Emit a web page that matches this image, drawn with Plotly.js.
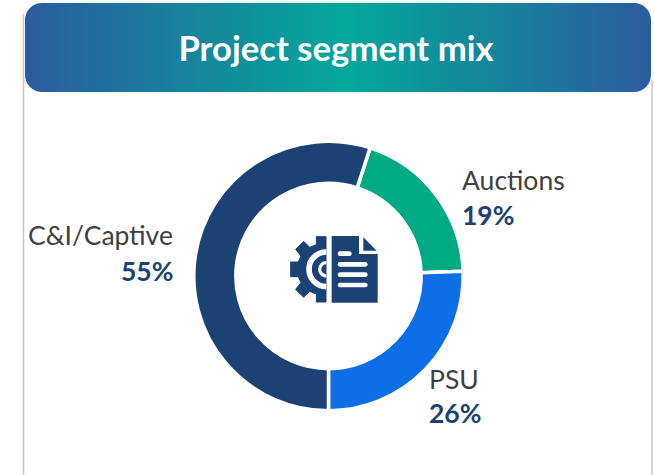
<!DOCTYPE html>
<html>
<head>
<meta charset="utf-8">
<script src="https://cdn.plot.ly/plotly-3.0.1.min.js"></script>
<style>
html,body{margin:0;padding:0;background:#fff;width:654px;height:475px;overflow:hidden}
#head{position:absolute;left:25px;top:3px;width:626px;height:89px;border-radius:17px;
background:linear-gradient(90deg,#2b5c9f 0%,#04a89b 51%,#2b5c9f 100%)}
#chart{position:absolute;left:0;top:0;width:654px;height:475px}
</style>
</head>
<body>
<div id="head"></div>
<div id="chart"></div>
<script>
const categories = ["Auctions", "PSU", "C&I/Captive"];
const shares = [19.45, 25.55, 55];
const sliceColors = ["#00ab84", "#0d6ee8", "#1c4174"];
const titleText = "Project segment mix";

const W = 654, H = 475;
const FONT = "Lato, 'Open Sans', sans-serif";
const cx = 328.5, cy = 276, R = 134.7;
const px = x => x / W, py = y => 1 - y / H;

// Label placement per category: anchor, x, name centre y, percent centre y
const placement = [
  {anchor: "left",  x: 460, yName: 180, yPct: 215},
  {anchor: "left",  x: 427, yName: 379, yPct: 413},
  {anchor: "right", x: 175, yName: 235, yPct: 271}
];

const annotations = [];
categories.forEach((c, i) => {
  const p = placement[i];
  annotations.push({xref:"paper", yref:"paper", x:px(p.x), y:py(p.yName), xanchor:p.anchor, yanchor:"middle",
    text:c, showarrow:false, font:{family:FONT, size:26.5, color:"#404040"}});
  annotations.push({xref:"paper", yref:"paper", x:px(p.x), y:py(p.yPct), xanchor:p.anchor, yanchor:"middle",
    text:"<b>"+Math.round(shares[i])+"%</b>", showarrow:false, font:{family:FONT, size:26.5, color:"#1c4174"}});
});

const iconSvg = `<svg xmlns="http://www.w3.org/2000/svg" viewBox="0 0 300 240" width="300" height="240">
<path fill="#1c4174" stroke="#1c4174" stroke-width="3" stroke-linejoin="round" d="M123 20H94V44L74 52L56 34L32 58L48 78L40 96H17V140H40L48 158L32 178L56 202L74 184L94 192V216H123Z"/>
<path fill="none" stroke="#fff" stroke-width="17" d="M124 66A52 52 0 0 0 124 170"/>
<path fill="none" stroke="#fff" stroke-width="10" d="M124 98A20 20 0 0 0 124 138"/>
<path fill="#1c4174" d="M140 18H222V72H278V218H140Z"/>
<path fill="#1c4174" d="M235 22L275 62H235Z"/>
<g fill="none" stroke="#fff" stroke-width="14" stroke-linecap="round">
<path d="M165 71H193"/><path d="M165 103H241"/><path d="M165 134H241"/><path d="M165 165H241"/>
</g></svg>`;

const data = [{
  type: "pie",
  labels: categories,
  values: shares,
  sort: false,
  direction: "clockwise",
  rotation: 18,
  hole: 0.688,
  textinfo: "none",
  hoverinfo: "label+percent",
  showlegend: false,
  marker: {colors: sliceColors, line: {color: "#ffffff", width: 3.5}},
  domain: {x: [px(cx - R), px(cx + R)], y: [py(cy + R), py(cy - R)]}
}];

const layout = {
  width: W, height: H,
  margin: {l:0, r:0, t:0, b:0, pad:0},
  paper_bgcolor: "rgba(0,0,0,0)",
  plot_bgcolor: "rgba(0,0,0,0)",
  showlegend: false,
  title: {text:"<b>"+titleText+"</b>", x:px(336), xanchor:"center", y:py(49), yanchor:"middle",
          font:{family:FONT, size:34.7, color:"#ffffff"}},
  annotations: annotations,
  shapes: [
    {type:"line", xref:"paper", yref:"paper", x0:px(23.5), x1:px(23.5), y0:0, y1:py(14), line:{color:"#c6c6c6", width:1.5}},
    {type:"line", xref:"paper", yref:"paper", x0:px(652), x1:px(652), y0:0, y1:py(80), line:{color:"#c6c6c6", width:1.5}}
  ],
  images: [{
    source: "data:image/svg+xml;base64," + btoa(iconSvg),
    xref:"paper", yref:"paper", x:px(285), y:py(230), sizex:100/W, sizey:80/H,
    xanchor:"left", yanchor:"top", sizing:"stretch", layer:"above"
  }]
};

Plotly.newPlot("chart", data, layout, {displayModeBar:false, staticPlot:true});
</script>
</body>
</html>
